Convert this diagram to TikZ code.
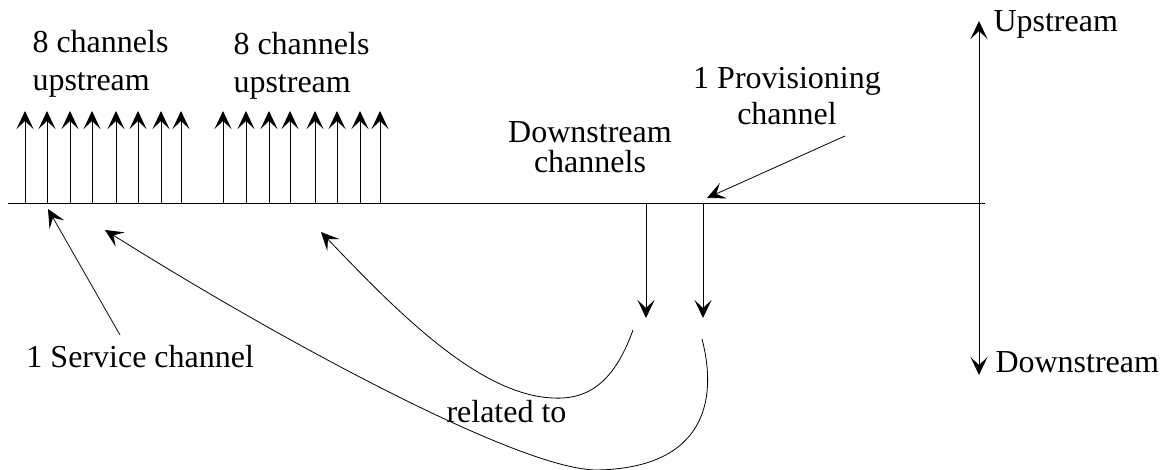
\documentclass[tikz,border=0pt]{standalone}
\usepackage{fontspec}
\setmainfont{Liberation Serif}
\usetikzlibrary{arrows.meta}
\begin{document}
\begin{tikzpicture}[x=1pt,y=-1pt,line width=1pt,
  tip/.style={-{Stealth[length=18pt,width=17pt,inset=8pt]}},
  lbl/.style={inner sep=0pt,font=\fontsize{32}{36}\selectfont},
  wide/.style={font=\fontsize{32}{38}\selectfont},
  narrow/.style={font=\fontsize{32}{30}\selectfont}]
\useasboundingbox (0,0) rectangle (1165,470);
% labels (multi-line nodes: base anchor = last line)
\node[lbl,wide,align=left,anchor=base west] (g1) at (32,91) {8 channels\\upstream};
\node[lbl,wide,align=left,anchor=base west] (g2) at (233,93) {8 channels\\upstream};
\node[lbl,narrow,align=center,anchor=base] (ds) at (590,173) {Downstream\\channels};
\node[lbl,align=center,anchor=base] (pv) at (787,125) {1 Provisioning\\channel};
\node[lbl,anchor=base west] (up) at (993,32) {Upstream};
\node[lbl,anchor=base west] (dn) at (995,373) {Downstream};
\node[lbl,anchor=base west] (sv) at (26,367) {1 Service channel};
\node[lbl,anchor=base west] (rel) at (446,422) {related to};
% baseline and axis
\coordinate (bl) at (8,204);
\coordinate (br) at (985,204);
\draw (bl) -- (br);
\coordinate (ax) at (979,204);
\coordinate (axu) at (979,21);
\coordinate (axd) at (979,375);
\draw[tip] (ax) -- (axu);
\draw[tip] (ax) -- (axd);
% upstream channels
\foreach \x in {25,47,70,92,116,138,161,181,223,246,269,290,315,337,360,380}
  \draw[tip] (\x,204) -- (\x,111);
% downstream channels
\coordinate (d1) at (646,204);
\coordinate (d1e) at (646,318);
\coordinate (d2) at (703,204);
\coordinate (d2e) at (703,318);
\draw[tip] (d1) -- (d1e);
\draw[tip] (d2) -- (d2e);
% pointers
\coordinate (pvs) at (845,136);
\coordinate (pvt) at (707,198);
\draw[tip,line width=0.8pt] (pvs) -- (pvt);
\coordinate (svs) at (120,335);
\coordinate (svt) at (48,209);
\draw[tip,line width=0.8pt] (svs) -- (svt);
% related curves
\coordinate (c1s) at (633,330);
\coordinate (c1t) at (321,232);
\draw[tip,line width=0.8pt] (c1s) .. controls (615,380) and (590,400) .. (553,398)
  .. controls (480,395) and (400,315) .. (c1t);
\coordinate (c2s) at (702,339);
\coordinate (c2t) at (105,230);
\draw[tip,line width=0.8pt] (c2s) .. controls (718,400) and (705,468) .. (597,470)
  .. controls (520,470) and (280,340) .. (c2t);
\end{tikzpicture}
\end{document}
